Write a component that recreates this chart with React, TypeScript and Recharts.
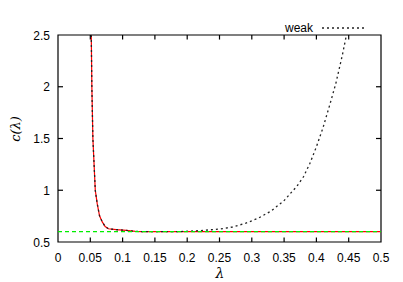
import React from "react";
import { LineChart, Line, XAxis, YAxis, Legend, Label, ReferenceArea, ReferenceLine } from "recharts";

const redX = [0.0515, 0.0524, 0.054, 0.0577, 0.0607, 0.0643, 0.0685, 0.073, 0.078, 0.09, 0.1057, 0.12, 0.13, 0.5];
const redY = [2.5, 2.0, 1.5, 1.0, 0.87, 0.753, 0.694, 0.65, 0.628, 0.62, 0.612, 0.603, 0.6, 0.6];

const weakX = [0.0515, 0.0524, 0.054, 0.0577, 0.0607, 0.0643, 0.0685, 0.073, 0.078, 0.09, 0.1057, 0.12, 0.13, 0.15, 0.19, 0.22, 0.25, 0.27, 0.29, 0.31, 0.33, 0.35, 0.37, 0.38, 0.39, 0.40, 0.41, 0.42, 0.43, 0.44, 0.4465];
const weakY = [2.5, 2.0, 1.5, 1.0, 0.87, 0.753, 0.694, 0.65, 0.628, 0.62, 0.612, 0.603, 0.6, 0.6, 0.601, 0.61, 0.625, 0.645, 0.68, 0.73, 0.8, 0.9, 1.04, 1.13, 1.26, 1.42, 1.6, 1.81, 2.03, 2.3, 2.5];

const baseX = [0, 0.5];
const baseY = [0.6, 0.6];

const xTicks = [0, 0.05, 0.1, 0.15, 0.2, 0.25, 0.3, 0.35, 0.4, 0.45, 0.5];
const yTicks = [0.5, 1, 1.5, 2, 2.5];

const redData = redX.map((x, i) => ({ x, y: redY[i] }));
const weakData = weakX.map((x, i) => ({ x, y: weakY[i] }));
const baseData = baseX.map((x, i) => ({ x, y: baseY[i] }));

const X_MIN = 0, X_MAX = 0.5, Y_MIN = 0.5, Y_MAX = 2.5;
const PLOT_W = 323, PLOT_H = 227, TICK_PX = 5;
const dxTick = (TICK_PX / PLOT_W) * (X_MAX - X_MIN);
const dyTick = (TICK_PX / PLOT_H) * (Y_MAX - Y_MIN);

const FONT = "'Liberation Sans', Arial, sans-serif";
const fmt = (v: number) => String(v);

const BottomTick = (p: any) => (
  <text x={p.x} y={p.y + 19.5} textAnchor="middle" fontFamily={FONT} fontSize={12} fill="#000">
    {fmt(p.payload.value)}
  </text>
);

const LeftTick = (p: any) => (
  <text x={p.x - 8} y={p.y + 4.5} textAnchor="end" fontFamily={FONT} fontSize={12} fill="#000">
    {fmt(p.payload.value)}
  </text>
);

const LegendContent = () => (
  <div style={{ position: "relative", width: 403, height: 20 }}>
    <span
      style={{
        position: "absolute",
        left: 285,
        top: 3,
        fontFamily: FONT,
        fontSize: 12,
        lineHeight: "14px",
        color: "#000",
        whiteSpace: "nowrap",
      }}
    >
      weak
    </span>
    <svg style={{ position: "absolute", left: 321, top: 0 }} width={46} height={20}>
      <line x1={1} x2={45} y1={10} y2={10} stroke="#222" strokeWidth={1.3} strokeDasharray="2 3" />
    </svg>
  </div>
);

const innerX = xTicks.slice(1, -1);
const innerY = yTicks.slice(1, -1);

export default function App() {
  return (
    <div style={{ position: "absolute", left: 0, top: 0, width: 403, height: 282, background: "#fff" }}>
      <LineChart width={403} height={282} margin={{ top: 15, right: 22, bottom: 0, left: 0 }}>
        <XAxis
          xAxisId="b"
          dataKey="x"
          type="number"
          domain={[X_MIN, X_MAX]}
          ticks={xTicks}
          allowDataOverflow
          orientation="bottom"
          height={40}
          tickSize={0}
          tickMargin={0}
          tickLine={false}
          axisLine={false}
          tick={BottomTick}
          interval={0}
        >
          <Label
            content={() => (
              <text x={220} y={278} textAnchor="middle" fontFamily="'DejaVu Serif', 'Liberation Serif', serif" fontStyle="italic" fontSize={14} fill="#000">
                λ
              </text>
            )}
          />
        </XAxis>
        <YAxis
          yAxisId="l"
          type="number"
          domain={[Y_MIN, Y_MAX]}
          ticks={yTicks}
          allowDataOverflow
          orientation="left"
          width={58}
          tickSize={0}
          tickMargin={0}
          tickLine={false}
          axisLine={false}
          tick={LeftTick}
          interval={0}
        >
          <Label
            content={() => (
              <text
                x={15}
                y={129}
                transform="rotate(-90 15 129)"
                textAnchor="middle"
                dominantBaseline="central"
                fontFamily="'DejaVu Serif', 'Liberation Serif', serif"
                fontStyle="italic"
                fontSize={13}
                fill="#000"
              >
                c(λ)
              </text>
            )}
          />
        </YAxis>
        <Legend
          verticalAlign="top"
          align="right"
          content={LegendContent}
          wrapperStyle={{ position: "absolute", top: 18, left: 0, width: 403, height: 20 }}
        />
        <Line
          xAxisId="b"
          yAxisId="l"
          data={redData}
          dataKey="y"
          type="linear"
          stroke="#ff0000"
          strokeWidth={1.2}
          dot={false}
          legendType="none"
          isAnimationActive={false}
        />
        <Line
          xAxisId="b"
          yAxisId="l"
          data={weakData}
          dataKey="y"
          name="weak"
          type="linear"
          stroke="#222"
          strokeWidth={1.3}
          strokeDasharray="2 3"
          dot={false}
          isAnimationActive={false}
        />
        <Line
          xAxisId="b"
          yAxisId="l"
          data={baseData}
          dataKey="y"
          type="linear"
          stroke="#00ee00"
          strokeWidth={1.2}
          strokeDasharray="4 3"
          dot={false}
          legendType="none"
          isAnimationActive={false}
        />
        {innerX.map((v) => (
          <ReferenceLine
            key={"bt" + v}
            xAxisId="b"
            yAxisId="l"
            segment={[{ x: v, y: Y_MIN }, { x: v, y: Y_MIN + dyTick }]}
            stroke="#000"
            strokeWidth={1.2}
            ifOverflow="visible"
          />
        ))}
        {innerX.map((v) => (
          <ReferenceLine
            key={"tt" + v}
            xAxisId="b"
            yAxisId="l"
            segment={[{ x: v, y: Y_MAX }, { x: v, y: Y_MAX - dyTick }]}
            stroke="#000"
            strokeWidth={1.2}
            ifOverflow="visible"
          />
        ))}
        {innerY.map((v) => (
          <ReferenceLine
            key={"lt" + v}
            xAxisId="b"
            yAxisId="l"
            segment={[{ x: X_MIN, y: v }, { x: X_MIN + dxTick, y: v }]}
            stroke="#000"
            strokeWidth={1.2}
            ifOverflow="visible"
          />
        ))}
        {innerY.map((v) => (
          <ReferenceLine
            key={"rt" + v}
            xAxisId="b"
            yAxisId="l"
            segment={[{ x: X_MAX, y: v }, { x: X_MAX - dxTick, y: v }]}
            stroke="#000"
            strokeWidth={1.2}
            ifOverflow="visible"
          />
        ))}
        <ReferenceArea
          xAxisId="b"
          yAxisId="l"
          x1={X_MIN}
          x2={X_MAX}
          y1={Y_MIN}
          y2={Y_MAX}
          fill="none"
          fillOpacity={0}
          stroke="#000"
          strokeWidth={1.2}
          ifOverflow="visible"
        />
      </LineChart>
    </div>
  );
}
